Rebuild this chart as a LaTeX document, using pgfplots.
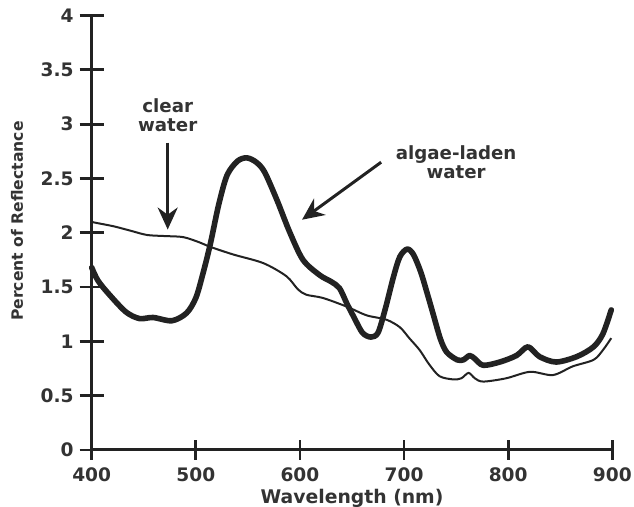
\documentclass[border=0pt]{standalone}
\usepackage{fontspec}
\setmainfont{DejaVu Sans}
\usepackage{pgfplots}
\pgfplotsset{compat=1.18}
\usetikzlibrary{arrows.meta}

\definecolor{ink}{HTML}{222222}
\definecolor{labelgray}{HTML}{333333}

% algae-laden water (thick)
\pgfplotstableread{
x y
400 1.68
406 1.56
417 1.43
433 1.27
446 1.21
459 1.22
477 1.19
491 1.26
500 1.40
507 1.63
514 1.90
522 2.26
530 2.53
540 2.66
549 2.69
558 2.65
566 2.56
578 2.30
590 2.01
603 1.75
619 1.61
630 1.55
638 1.49
645 1.35
652 1.22
660 1.08
668 1.04
675 1.08
682 1.30
690 1.60
696 1.78
703 1.85
709 1.80
716 1.64
722 1.45
728 1.25
735 1.02
741 0.90
751 0.83
757 0.83
763 0.87
768 0.84
776 0.78
792 0.81
808 0.87
819 0.95
830 0.86
846 0.81
866 0.86
882 0.95
891 1.07
899 1.29
}\algae

% clear water (thin)
\pgfplotstableread{
x y
400 2.10
405 2.09
421 2.06
437 2.02
453 1.98
470 1.97
488 1.96
504 1.91
514 1.87
536 1.80
565 1.72
587 1.60
598 1.48
606 1.43
622 1.40
645 1.32
664 1.24
683 1.20
696 1.13
705 1.03
715 0.92
724 0.79
734 0.68
747 0.65
755 0.66
762 0.71
768 0.66
776 0.63
798 0.66
821 0.72
843 0.69
862 0.77
882 0.83
891 0.92
899 1.03
}\clear

\begin{document}
\begin{tikzpicture}
\begin{axis}[
    name=ax,
    at={(0,0)}, anchor=south west,
    scale only axis,
    width=260.3pt, height=217.2pt,
    xmin=400, xmax=900, ymin=0, ymax=4,
    enlargelimits=false,
    axis lines=left,
    axis line style={draw=ink, line width=1.5pt, -},
    xtick={400,500,...,900},
    ytick={0,0.5,...,4},
    tick align=center,
    major tick length=11pt,
    tick style={draw=ink, line width=1.4pt},
    xtick style={/pgfplots/major tick length=10pt},
    ytick style={/pgfplots/major tick length=12pt},
    /pgf/number format/assume math mode=true,
    ticklabel style={font=\fontsize{9.3}{11}\selectfont\bfseries, text=labelgray},
    yticklabel style={/pgf/number format/fixed},
    xlabel={Wavelength (nm)},
    ylabel={Percent of Reflectance},
    xlabel style={font=\fontsize{9.4}{11}\selectfont\bfseries, text=labelgray,
        at={(axis description cs:0.5,-0.1105)}, anchor=center},
    ylabel style={font=\fontsize{7.8}{9}\selectfont\bfseries, text=labelgray,
        at={(axis description cs:-0.1435,0.527)}, anchor=center},
    clip=false,
]
\addplot[ink, line width=1pt, smooth, tension=0.5, line join=round] table {\clear};
\addplot[ink, line width=2.8pt, smooth, tension=0.5, line join=round, line cap=round] table {\algae};

\node[font=\fontsize{9.1}{9.4}\selectfont\bfseries, text=labelgray, align=center]
    at (axis cs:473,3.085) {clear\\water};
\draw[ink, line width=1.5pt, -{Stealth[length=11pt,width=10pt]}]
    (axis cs:473,2.83) -- (axis cs:473,2.03);

\node[font=\fontsize{9.1}{9.4}\selectfont\bfseries, text=labelgray, align=center]
    at (axis cs:750,2.65) {algae-laden\\water};
\draw[ink, line width=1.5pt, -{Stealth[length=11pt,width=10pt]}]
    (axis cs:678,2.65) -- (axis cs:602,2.12);
\end{axis}
\pgfresetboundingbox
\path[use as bounding box] ([shift={(-45.85pt,-28.5pt)}]ax.south west)
    rectangle ([shift={(271.15pt,225pt)}]ax.south west);
\end{tikzpicture}
\end{document}
